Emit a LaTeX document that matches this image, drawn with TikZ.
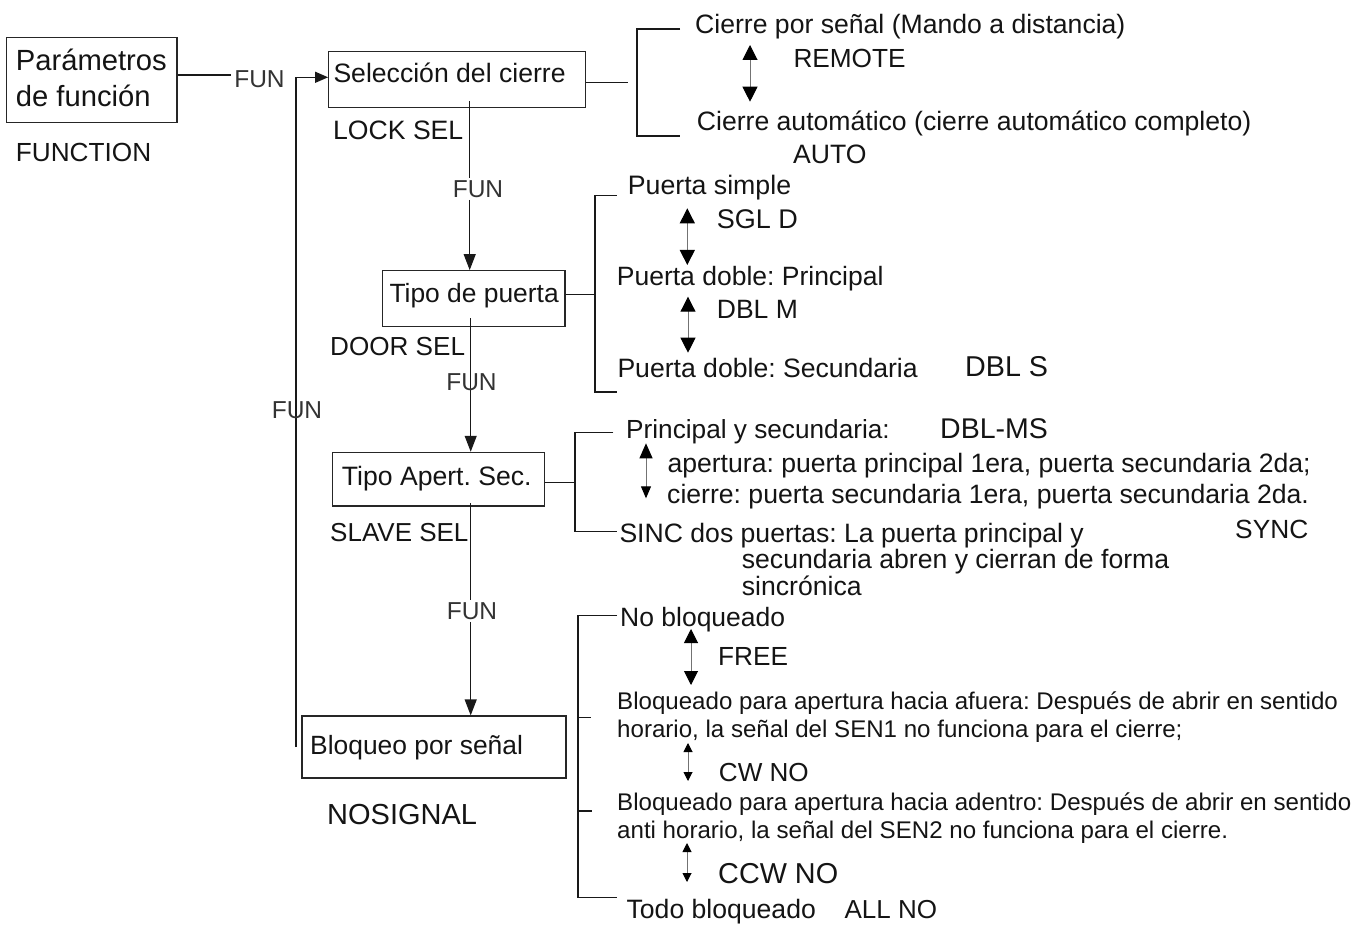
\documentclass[tikz,border=0pt]{standalone}
\usepackage{fontspec}
\setmainfont{Liberation Sans}
\usetikzlibrary{arrows.meta}
\frenchspacing
\begin{document}
\frenchspacing
\begin{tikzpicture}[x=1pt,y=-1pt,
  ln/.style={line width=1.2pt, draw=black!90},
  box/.style={draw=black!85, line width=1.2pt, inner sep=0pt},
  t/.style={font=\fontsize{#1}{#1}\selectfont\frenchspacing, inner sep=0pt, anchor=west,
            text height={0.716*#1}, text depth=0pt, text=black!92},
  fun/.style={font=\fontsize{24.5}{24.5}\selectfont, inner xsep=3pt, inner ysep=2pt,
              text height=17.5pt, text depth=0pt, text=black!80, anchor=center},
  funf/.style={fun, fill=white},
  arr/.style={-{Triangle[length=16pt,width=12pt]}},
  dbl/.style={draw=black!55, line width=1pt,
     {Triangle[length=#1,width=#1,color=black]}-{Triangle[length=#1,width=#1,color=black]}},
  dbl/.default=15pt
]
\useasboundingbox (0,0) rectangle (1366,928);

% ---------- boxes ----------
\node[box, minimum width=170.7pt, minimum height=85pt] (p) at (91.7,80.2) {};
\node[box, minimum width=257pt, minimum height=56pt] (sel) at (457.2,79.7) {};
\node[box, minimum width=182.7pt, minimum height=56pt] (door) at (473.7,298.7) {};
\node[box, minimum width=211.6pt, minimum height=53.7pt] (slave) at (438.5,479.2) {};
\node[box, minimum width=264pt, minimum height=62pt] (nosig) at (434,747) {};

% ---------- box texts and codes ----------
\node[t=29.2] (tp1) at (15.7,60.5) {Parámetros};
\node[t=29.2] (tp2) at (15.7,96.3) {de función};
\node[t=26.2] (tfunc) at (15.7,152.5) {FUNCTION};
\node[t=26.6] (tsel) at (333.3,72.5) {Selección del cierre};
\node[t=26.6] (tlock) at (333,130) {LOCK SEL};
\node[t=26.4] (tdoor) at (389.3,293) {Tipo de puerta};
\node[t=26.1] (tdoorsel) at (330,346.5) {DOOR SEL};
\node[t=26.6] (tslave) at (341.7,476) {Tipo Apert. Sec.};
\node[t=26] (tslavesel) at (330,532) {SLAVE SEL};
\node[t=26.4] (tnosig) at (310,745.5) {Bloqueo por señal};
\node[t=29] (tnosigcode) at (327,814) {NOSIGNAL};

% ---------- main flow ----------
\node[funf] (fun0) at (259.5,78.5) {FUN};
\draw[ln] ([yshift=5.2pt]p.east) -- ([yshift=5.2pt]p.east -| fun0.west);

\coordinate (fbB) at (296,747);
\coordinate (fbT) at (296,77.3);
\draw[ln, -{Triangle[length=13pt,width=11pt]}] (fbB) -- (fbT) -- (fbT -| sel.west);
\node[fun] (funL) at (297,409.5) {FUN};

\coordinate (s1) at (469.7,101);
\node[funf] (fun1) at (478,189) {FUN};
\draw[ln] (s1) -- (s1 |- fun1.north);
\draw[ln, arr] (s1 |- fun1.south) -- (s1 |- door.north);

\coordinate (s2) at (470.7,318);
\draw[ln, arr] (s2) -- (s2 |- slave.north);
\node[fun] (fun2) at (471.5,382) {FUN};

\coordinate (s3) at (470.7,503);
\node[funf] (fun3) at (472,611) {FUN};
\draw[ln] (s3) -- (s3 |- fun3.north);
\draw[ln, arr] (s3 |- fun3.south) -- (s3 |- nosig.north);

% ---------- bracket 1 : LOCK SEL ----------
\coordinate (b1c) at (628.3,82.7);
\coordinate (b1t) at (637,29);
\coordinate (b1b) at (637,136);
\coordinate (b1tt) at (680,29);
\coordinate (b1bt) at (680,136);
\draw[ln] ([yshift=-3pt]sel.east) -- (b1c);
\draw[ln] (b1tt) -- (b1t) -- (b1b) -- (b1bt);
\node[t=26.6] (c1) at (695,24) {Cierre por señal (Mando a distancia)};
\node[t=26.2] (c1code) at (793.3,58) {REMOTE};
\node[t=26.6] (c2) at (696.7,120.5) {Cierre automático (cierre automático completo)};
\node[t=26.6] (c2code) at (793,154) {AUTO};
\coordinate (a1t) at (750,45);
\coordinate (a1b) at (750,101.7);
\draw[dbl] (a1t) -- (a1b);

% ---------- bracket 2 : DOOR SEL ----------
\coordinate (b2t) at (595,195.7);
\coordinate (b2b) at (595,392);
\coordinate (b2tt) at (616.7,195.7);
\coordinate (b2bt) at (616.7,392);
\draw[ln] ([yshift=4pt]door.east) -- ([yshift=4pt]door.east -| b2t);
\draw[ln] (b2tt) -- (b2t) -- (b2b) -- (b2bt);
\node[t=26.7] (d1) at (627.7,184.5) {Puerta simple};
\node[t=27] (d1code) at (716.7,219) {SGL D};
\node[t=26.5] (d2) at (616.7,276) {Puerta doble: Principal};
\node[t=26.5] (d2code) at (716.7,309) {DBL M};
\node[t=26.6] (d3) at (617.3,367.5) {Puerta doble: Secundaria};
\node[t=28.7] (d3code) at (965,366) {DBL S};
\coordinate (a2t) at (687.3,208.3);
\coordinate (a2b) at (687.3,265);
\draw[dbl] (a2t) -- (a2b);
\coordinate (a3t) at (688,296.7);
\coordinate (a3b) at (688,352.7);
\draw[dbl] (a3t) -- (a3b);

% ---------- bracket 3 : SLAVE SEL ----------
\coordinate (b3t) at (575,432.7);
\coordinate (b3b) at (575,531.7);
\coordinate (b3tt) at (613.3,432.7);
\coordinate (b3bt) at (616.7,531.7);
\draw[ln] ([yshift=-3.1pt]slave.east) -- ([yshift=-3.1pt]slave.east -| b3t);
\draw[ln] (b3tt) -- (b3t) -- (b3b) -- (b3bt);
\node[t=26.2] (e1) at (626,429) {Principal y secundaria:};
\node[t=28.5] (e1code) at (940,428) {DBL-MS};
\node[t=26.6] (e1a) at (667.3,462.5) {apertura: puerta principal 1era, puerta secundaria 2da;};
\node[t=26.6] (e1b) at (667,494) {cierre: puerta secundaria 1era, puerta secundaria 2da.};
\node[t=26.6] (e2) at (619.3,532.5) {SINC dos puertas: La puerta principal y};
\node[t=26.3] (e2code) at (1235,529) {SYNC};
\node[t=26.6] (e2b) at (741.7,559) {secundaria abren y cierran de forma};
\node[t=26.6] (e2c) at (741.7,586) {sincrónica};
\coordinate (a4t) at (646,443.3);
\coordinate (a4b) at (646,498.3);
\draw[draw=black!55, line width=1pt,
  {Triangle[length=15pt,width=13pt,color=black]}-{Triangle[length=12pt,width=10pt,color=black]}] (a4t) -- (a4b);

% ---------- bracket 4 : NOSIGNAL ----------
\coordinate (b4t) at (578,615.7);
\coordinate (b4b) at (578,897.7);
\coordinate (b4tt) at (617,615.7);
\coordinate (b4bt) at (617,897.7);
\coordinate (b4m1) at (578,717.7);
\coordinate (b4m1t) at (591,717.7);
\coordinate (b4m2) at (578,811);
\coordinate (b4m2t) at (592,811);
\draw[ln] (b4tt) -- (b4t) -- (b4b) -- (b4bt);
\draw[ln] (b4m1) -- (b4m1t);
\draw[ln] (b4m2) -- (b4m2t);
\node[t=26.5] (f1) at (620,617) {No bloqueado};
\node[t=26.2] (f1code) at (718,656) {FREE};
\node[t=24.1] (f2a) at (617,701) {Bloqueado para apertura hacia afuera: Después de abrir en sentido};
\node[t=24.1] (f2b) at (617,728.7) {horario, la señal del SEN1 no funciona para el cierre;};
\node[t=26.1] (f2code) at (718.7,772) {CW NO};
\node[t=24.1] (f3a) at (617,801.7) {Bloqueado para apertura hacia adentro: Después de abrir en sentido};
\node[t=24.1] (f3b) at (617,829.5) {anti horario, la señal del SEN2 no funciona para el cierre.};
\node[t=28.8] (f3code) at (718,873) {CCW NO};
\node[t=26.6] (f4) at (626.4,909) {Todo bloqueado};
\node[t=26] (f4code) at (844.4,909) {ALL NO};
\coordinate (a5t) at (691,629);
\coordinate (a5b) at (691,685);
\draw[dbl=14pt] (a5t) -- (a5b);
\coordinate (a6t) at (688,743);
\coordinate (a6b) at (688,781);
\draw[dbl=9pt] (a6t) -- (a6b);
\coordinate (a7t) at (687,843);
\coordinate (a7b) at (687,882);
\draw[dbl=9pt] (a7t) -- (a7b);
\end{tikzpicture}
\end{document}
